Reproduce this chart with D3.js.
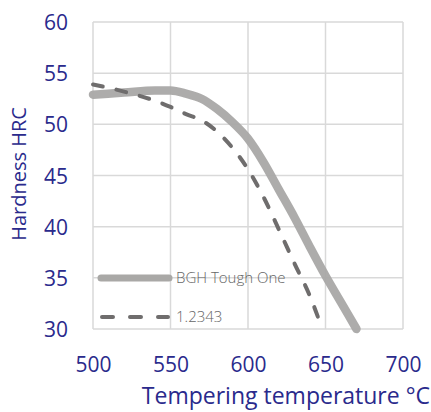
<!DOCTYPE html>
<html><head><meta charset="utf-8">
<script src="https://cdn.jsdelivr.net/npm/d3@7"></script>
<style>body{margin:0;background:#fff}svg{display:block}</style>
</head><body>
<svg id="c" width="431" height="412"></svg>
<script>
const xTicks = [500, 550, 600, 650, 700];
const yTicks = [30, 35, 40, 45, 50, 55, 60];
const seriesNames = ["BGH Tough One", "1.2343"];
const bghTemp = [500, 520, 540, 550, 560, 570, 580, 590, 600, 610, 620, 630, 640, 650, 660, 670];
const bghHard = [52.9, 53.1, 53.3, 53.3, 53.0, 52.5, 51.5, 50.2, 48.6, 46.3, 43.6, 40.9, 38.0, 35.2, 32.6, 30.0];
const stdTemp = [500, 520, 540, 550, 560, 570, 580, 590, 600, 610, 620, 630, 640, 647];
const stdHard = [53.9, 53.2, 52.3, 51.7, 51.0, 50.4, 49.3, 47.7, 45.6, 42.9, 39.7, 36.4, 33.2, 30.4];

const svg = d3.select("#c");
const navy = "#2a2a8c";
const x = d3.scaleLinear().domain([500, 700]).range([93, 403]);
const y = d3.scaleLinear().domain([30, 60]).range([329, 22]);
const font = "'Open Sans', sans-serif";
const fw = 400;

const grid = svg.append("g");
xTicks.forEach(t => grid.append("line").attr("x1", x(t)).attr("x2", x(t)).attr("y1", y(60)).attr("y2", y(30))
  .attr("stroke", "#d9d9d9").attr("stroke-width", 1.5));
yTicks.forEach(t => grid.append("line").attr("x1", x(500)).attr("x2", x(700)).attr("y1", y(t)).attr("y2", y(t))
  .attr("stroke", "#d9d9d9").attr("stroke-width", 1.5));

const xAxis = d3.axisBottom(x).tickValues(xTicks).tickSize(0).tickPadding(0);
const gx = svg.append("g").attr("transform", `translate(0,${y(30)})`).call(xAxis);
gx.select(".domain").remove();
gx.selectAll("text").attr("font-family", font).attr("font-weight", fw).attr("font-size", 21).attr("fill", navy)
  .attr("dy", null).attr("y", 43);

const yAxis = d3.axisLeft(y).tickValues(yTicks).tickSize(0).tickPadding(0);
const gy = svg.append("g").attr("transform", `translate(68,0)`).call(yAxis);
gy.select(".domain").remove();
gy.selectAll("text").attr("font-family", font).attr("font-weight", fw).attr("font-size", 21).attr("fill", navy)
  .attr("dy", "0.36em").attr("x", 0);

const line = d3.line().x(d => x(d[0])).y(d => y(d[1])).curve(d3.curveMonotoneX);
const bgh = bghTemp.map((t, i) => [t, bghHard[i]]);
const std = stdTemp.map((t, i) => [t, stdHard[i]]);

svg.append("path").attr("d", line(bgh)).attr("fill", "none").attr("stroke", "#a9a8a6")
  .attr("stroke-width", 8.5).attr("stroke-linecap", "round").attr("opacity", 0.95);
svg.append("path").attr("d", line(std)).attr("fill", "none").attr("stroke", "#6f6d6d")
  .attr("stroke-width", 4).attr("stroke-dasharray", "10,14").attr("stroke-linecap", "round");

// legend
const lg = svg.append("g");
lg.append("line").attr("x1", 101).attr("x2", 169).attr("y1", 278).attr("y2", 278)
  .attr("stroke", "#a9a8a6").attr("stroke-width", 7).attr("stroke-linecap", "round");
lg.append("line").attr("x1", 102).attr("x2", 168).attr("y1", 317).attr("y2", 317)
  .attr("stroke", "#6f6d6d").attr("stroke-width", 4).attr("stroke-dasharray", "11,17").attr("stroke-linecap", "round");
lg.append("text").attr("x", 176).attr("y", 278).attr("dy", "0.36em").text(seriesNames[0])
  .attr("font-family", font).attr("font-weight", 300).attr("font-size", 15).attr("fill", "#666");
lg.append("text").attr("x", 176).attr("y", 317).attr("dy", "0.36em").text(seriesNames[1])
  .attr("font-family", font).attr("font-weight", 300).attr("font-size", 15).attr("fill", "#666");

svg.append("text").attr("x", 430).attr("y", 404).attr("text-anchor", "end")
  .attr("font-family", font).attr("font-weight", fw).attr("font-size", 23).attr("fill", navy).text("Tempering temperature °C");
svg.append("text").attr("transform", "translate(26,174) rotate(-90)").attr("text-anchor", "middle")
  .attr("font-family", font).attr("font-weight", fw).attr("font-size", 20).attr("fill", navy).text("Hardness HRC");
</script>
</body></html>
